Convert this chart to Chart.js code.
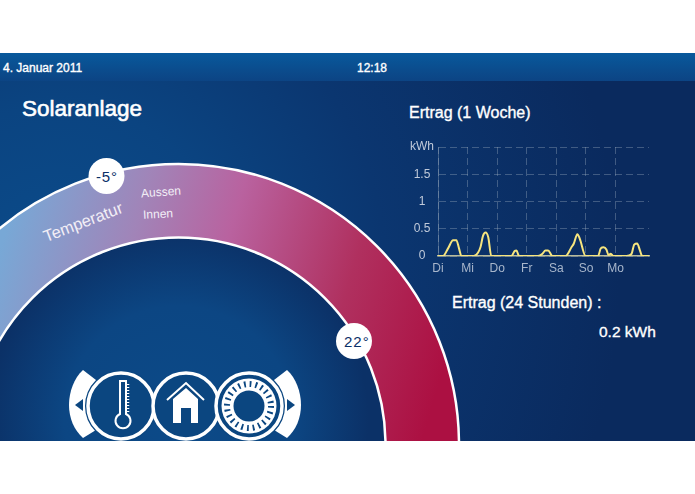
<!DOCTYPE html>
<html lang="de">
<head>
<meta charset="utf-8">
<title>Solaranlage</title>
<script src="https://cdn.jsdelivr.net/npm/chart.js@4"></script>
<style>
  html, body { margin: 0; padding: 0; background: #fff; }
  body { width: 695px; height: 494px; overflow: hidden; position: relative; font-family: "Liberation Sans", Arial, sans-serif; }
  #panel {
    position: absolute; left: 0; top: 53px; width: 695px; height: 388px; overflow: hidden;
    background: radial-gradient(circle 560px at 60px 220px, #0b4c8b 0%, #0b4481 30%, #0b3670 58%, #0a2a5e 100%);
  }
  #topbar {
    position: absolute; left: 0; top: 0; width: 695px; height: 28px;
    background: linear-gradient(to bottom, #08599c 0%, #0b4c8d 60%, #0c4484 100%);
  }
  #deko { position: absolute; left: 0; top: 0; }
  .txt { position: absolute; color: #fff; white-space: nowrap; line-height: 1; }
  .kraeftig { -webkit-text-stroke: 0.35px #fff; }
  #grafik { position: absolute; left: 400px; top: 130px; width: 260px; height: 150px; }
</style>
</head>
<body>
<div id="panel"><div id="topbar"></div></div>

<svg id="deko" width="695" height="441" viewBox="0 0 695 441">
  <defs>
    <linearGradient id="band" gradientUnits="userSpaceOnUse" x1="0" y1="250" x2="440" y2="380">
      <stop offset="0" stop-color="#78a8d6"/>
      <stop offset="0.27" stop-color="#a184b8"/>
      <stop offset="0.47" stop-color="#b9629f"/>
      <stop offset="0.75" stop-color="#b0305f"/>
      <stop offset="1" stop-color="#ac1042"/>
    </linearGradient>
    <radialGradient id="innen" gradientUnits="userSpaceOnUse" cx="178.5" cy="420" r="190">
      <stop offset="0" stop-color="#0c4a88"/>
      <stop offset="0.6" stop-color="#0c4683"/>
      <stop offset="1" stop-color="#0b3167"/>
    </radialGradient>
  </defs>
  <!-- temperature band -->
  <circle cx="178.5" cy="444.5" r="207" fill="url(#innen)"/>
  <circle cx="178.5" cy="444.5" r="244" fill="none" stroke="url(#band)" stroke-width="73"/>
  <circle cx="178.5" cy="444.5" r="280.5" fill="none" stroke="#fff" stroke-width="2.5"/>
  <circle cx="178.5" cy="444.5" r="207" fill="none" stroke="#fff" stroke-width="2.5"/>
  <circle cx="106.5" cy="176" r="18" fill="#fff"/>
  <circle cx="354" cy="341" r="18" fill="#fff"/>

  <!-- buttons -->
  <g fill="#fff">
    <path d="M83 370 C74 378 69 392 69 405 C69 418 74 430 83 438 L96 430 L96 380 Z"/>
    <path d="M287 370 C296 378 301 392 301 405 C301 418 296 430 287 438 L274 430 L274 380 Z"/>
  </g>
  <polygon points="75,405 83,399 83,411" fill="#0b4680"/>
  <polygon points="295,405 287,399 287,411" fill="#0b4680"/>
  <g fill="#0b4680" stroke="#0b4680" stroke-width="6">
    <circle cx="121" cy="406" r="33"/>
    <circle cx="249" cy="406" r="33"/>
  </g>
  <g fill="#0b4680" stroke="#fff" stroke-width="3.5">
    <circle cx="121" cy="406" r="33"/>
    <circle cx="186" cy="406" r="33"/>
    <circle cx="249" cy="406" r="33"/>
  </g>
  <!-- thermometer -->
  <path d="M120 381 h6 v33 a7.5 7.5 0 1 1 -6 0 Z" fill="none" stroke="#fff" stroke-width="2"/>
  <line x1="128" y1="384" x2="128" y2="412" stroke="#fff" stroke-width="2.5" stroke-dasharray="1 2"/>
  <!-- house -->
  <polyline points="167,400 186,383 204,400" fill="none" stroke="#fff" stroke-width="2"/>
  <path d="M186 388 L198 399 V423 H191 V408 H181 V423 H173 V399 Z" fill="#fff"/>
  <!-- sun -->
  <circle cx="249" cy="406" r="27.5" fill="#fff"/>
  <circle cx="249" cy="406" r="22" fill="none" stroke="#0b4680" stroke-width="6" stroke-dasharray="1.8 3.96"/>
  <circle cx="249" cy="406" r="15.5" fill="#0b4680"/>
</svg>

<div class="txt kraeftig" style="left:3px;top:62px;font-size:12px">4. Januar 2011</div>
<div class="txt kraeftig" style="left:357px;top:62px;font-size:12px">12:18</div>
<div class="txt kraeftig" style="left:22px;top:98px;font-size:22.5px;-webkit-text-stroke-width:0.6px">Solaranlage</div>
<div class="txt kraeftig" style="left:409px;top:105px;font-size:16px">Ertrag (1 Woche)</div>
<div class="txt kraeftig" style="left:452px;top:295px;font-size:16px">Ertrag (24 Stunden) :</div>
<div class="txt kraeftig" style="left:599px;top:324px;font-size:15.5px">0.2 kWh</div>

<div class="txt" style="left:47px;top:228px;font-size:16.5px;color:#f2eef6;transform:rotate(-21deg);transform-origin:0 100%">Temperatur</div>
<div class="txt" style="left:141px;top:186px;font-size:12px;color:#f2eef6;transform:rotate(-4deg)">Aussen</div>
<div class="txt" style="left:143px;top:208px;font-size:12px;color:#f2eef6;transform:rotate(-3deg)">Innen</div>
<div class="txt" style="left:96px;top:169px;font-size:15px;letter-spacing:0.8px;color:#0a2f68">-5°</div>
<div class="txt" style="left:344px;top:334px;font-size:15px;letter-spacing:1px;color:#0a2f68">22°</div>

<div id="grafik"><canvas id="ertragChart" width="260" height="150"></canvas></div>

<script>
// Ertrag der letzten Woche, x in Tagen ab Dienstag
const tage = ["Di", "Mi", "Do", "Fr", "Sa", "So", "Mo"];
const yTicks = ["0", "0.5", "1", "1.5", "kWh"];
const ertragX = [
  0, 0.17, 0.34, 0.51, 0.62, 0.71, 0.79,
  1.21, 1.35, 1.44, 1.52, 1.61, 1.70, 1.80,
  2.48, 2.59, 2.65, 2.74,
  3.38, 3.53, 3.63, 3.72, 3.87,
  4.31, 4.51, 4.59, 4.71, 4.79, 4.99,
  5.41, 5.50, 5.60, 5.69, 5.76, 5.84, 5.92,
  6.37, 6.54, 6.63, 6.73, 6.82, 6.90, 7.13
];
const ertragKwh = [
  0, 0, 0.14, 0.29, 0.29, 0.14, 0,
  0, 0.06, 0.17, 0.37, 0.43, 0.34, 0,
  0, 0.09, 0.10, 0,
  0, 0.04, 0.10, 0.10, 0,
  0, 0.16, 0.23, 0.40, 0.32, 0,
  0, 0.14, 0.16, 0.12, 0.02, 0.04, 0,
  0, 0.04, 0.21, 0.23, 0.11, 0, 0
];

const gitter = "rgba(170,185,200,0.34)";

new Chart(document.getElementById("ertragChart"), {
  type: "line",
  data: {
    datasets: [{
      data: ertragX.map((x, i) => ({ x: x, y: ertragKwh[i] })),
      borderColor: "#f7e57e",
      borderWidth: 2,
      pointRadius: 0,
      fill: false,
      cubicInterpolationMode: "monotone"
    }]
  },
  options: {
    responsive: false,
    maintainAspectRatio: false,
    animation: false,
    layout: { padding: { top: 17, right: 11, left: 0, bottom: 0 } },
    plugins: { legend: { display: false }, tooltip: { enabled: false } },
    scales: {
      x: {
        type: "linear",
        min: 0,
        max: 7.13,
        afterFit: s => { s.height = 24; },
        border: { color: "#b9bc9c", width: 1.5, dash: [7, 4] },
        grid: { color: gitter, drawTicks: false },
        ticks: {
          stepSize: 1,
          includeBounds: false,
          maxRotation: 0,
          padding: 5,
          color: "#a8b6cb",
          font: { family: "'Liberation Sans'", size: 12 },
          callback: v => tage[v]
        }
      },
      y: {
        min: 0,
        max: 2,
        afterFit: s => { s.width = 38; },
        border: { color: gitter, width: 1, dash: [7, 4] },
        grid: { color: gitter, drawTicks: false },
        ticks: {
          stepSize: 0.5,
          padding: 4,
          crossAlign: "center",
          color: "#c0cada",
          font: { family: "'Liberation Sans'", size: 12 },
          callback: v => yTicks[v / 0.5]
        }
      }
    }
  }
});
</script>
</body>
</html>
